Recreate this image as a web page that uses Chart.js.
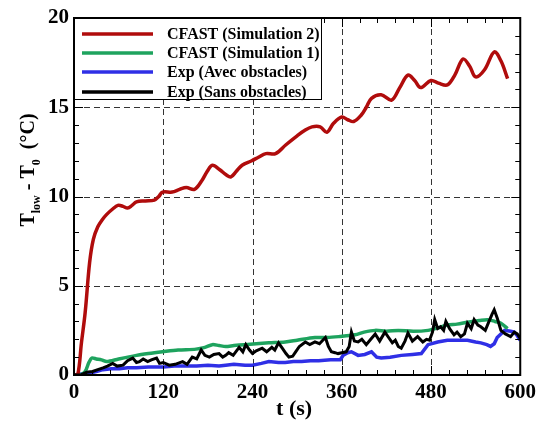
<!DOCTYPE html>
<html>
<head>
<meta charset="utf-8">
<script src="https://cdn.jsdelivr.net/npm/chart.js@4.4.1/dist/chart.umd.min.js"></script>
<style>
html,body{margin:0;padding:0;background:#fff;}
#c{display:block;}
</style>
</head>
<body>
<canvas id="c" width="541" height="421"></canvas>
<script>
// ---- data ----
const seriesLabels = ["CFAST (Simulation 2)", "CFAST (Simulation 1)", "Exp (Avec obstacles)", "Exp (Sans obstacles)"];
const xTickValues = [0, 120, 240, 360, 480, 600];
const yTickValues = [0, 5, 10, 15, 20];

const sim2Time = [0,5,10,15,21,26,32,38,44,52,59,66,72,78,84,96,108,114,119,132,142,151,162,172,179,186,196,205,211,218,226,239,248,258,271,285,300,310,320,331,340,349,360,368,376,386,393,400,413,427,438,449,458,466,480,490,502,512,523,532,540,552,565,574,583];
const sim2Vals = [0,0,1.8,3.5,6.3,7.6,8.3,8.7,9.0,9.3,9.5,9.45,9.35,9.5,9.7,9.75,9.8,10.0,10.25,10.25,10.4,10.5,10.4,10.9,11.4,11.75,11.5,11.2,11.1,11.4,11.75,12.0,12.2,12.4,12.4,12.9,13.4,13.7,13.9,13.9,13.6,14.1,14.45,14.3,14.2,14.55,15.0,15.5,15.7,15.4,16.1,16.8,16.5,16.1,16.5,16.35,16.25,16.8,17.7,17.3,16.7,17.1,18.1,17.6,16.6];

const sim1Time = [0,8,15,20,24,30,37,44,60,84,100,119,140,164,176,186,195,204,215,229,245,262,284,300,324,340,356,378,390,405,420,436,456,476,490,502,515,529,545,556,566,574,583];
const sim1Vals = [0,0,0.2,0.7,0.95,0.9,0.85,0.75,0.9,1.1,1.2,1.3,1.4,1.45,1.55,1.7,1.65,1.6,1.65,1.7,1.75,1.8,1.85,1.95,2.1,2.1,2.15,2.25,2.4,2.5,2.45,2.5,2.45,2.5,2.65,2.8,2.85,2.95,3.05,3.1,3.0,2.9,2.6];

const avecTime = [0,10,20,30,39,50,61,72,84,100,111,120,135,151,165,180,195,204,215,230,240,252,262,275,284,295,306,318,329,345,358,362,368,373,382,391,400,407,413,425,440,455,467,476,489,502,515,529,540,547,555,560,565,569,574,579,587,592,596,600];
const avecVals = [0,0.05,0.1,0.2,0.3,0.35,0.35,0.4,0.4,0.45,0.45,0.45,0.5,0.5,0.5,0.55,0.5,0.55,0.6,0.55,0.55,0.65,0.75,0.7,0.7,0.75,0.75,0.8,0.8,0.85,0.85,1.1,1.25,1.3,1.1,1.15,1.3,1.0,0.95,1.0,1.1,1.15,1.2,1.7,1.85,1.95,1.95,1.95,1.85,1.8,1.7,1.6,1.75,2.1,2.3,2.5,2.45,2.4,2.2,1.95];

const sansTime = [0,10,17,25,32,39,45,52,58,66,
  72,79,84,88,93,99,104,111,115,120,
  128,136,146,152,159,165,171,176,182,188,
  195,200,204,208,214,222,227,231,236,240,
  245,253,259,266,270,275,280,285,289,294,
  298,303,311,317,324,330,338,342,346,351,
  355,360,366,370,373,377,382,387,393,399,
  405,411,418,423,428,432,436,440,445,449,
  455,462,469,474,478,482,485,489,493,497,
  500,505,511,515,520,525,529,534,538,543,
  547,553,558,562,565,569,574,580,587,592,
  596,600];
const sansVals = [0,0.02,0.15,0.2,0.3,0.4,0.5,0.65,0.5,0.55,
  0.8,0.95,0.7,0.75,0.9,0.75,0.85,0.95,0.65,0.7,
  0.55,0.6,0.75,0.6,1.0,0.9,1.4,1.1,1.0,1.15,
  1.2,1.0,1.1,1.25,1.1,1.55,1.3,1.7,1.4,1.2,
  1.35,1.5,1.3,1.55,1.4,1.8,1.5,1.2,1.0,1.05,
  1.3,1.6,1.85,1.7,1.85,1.75,2.1,1.6,1.3,1.25,
  1.2,1.25,1.3,1.6,2.4,1.9,1.85,2.0,1.7,2.0,
  2.3,1.9,2.4,2.1,1.8,1.95,1.6,1.5,1.9,2.35,
  1.9,2.15,1.85,2.0,1.95,2.4,3.1,2.6,2.7,2.5,
  3.0,2.6,2.25,2.4,2.15,2.3,2.9,2.6,3.1,2.8,
  2.7,2.5,3.0,3.4,3.65,3.2,2.5,2.3,2.15,2.4,
  2.3,2.05];

const seriesColors = ["#b00c0c", "#1ea35e", "#2f2fe6", "#000000"];

function pts(t, v){ return t.map((x,i)=>({x:x, y:v[i]})); }

const SERIF = '"Liberation Serif","Times New Roman",serif';

const framePlugin = {
  id: 'frame',
  beforeDatasetsDraw(chart){
    const ctx = chart.ctx, a = chart.chartArea;
    const xs = chart.scales.x, ys = chart.scales.y;
    ctx.save();
    ctx.strokeStyle = '#333';
    ctx.lineWidth = 1;
    ctx.setLineDash([6, 4]);
    ctx.beginPath();
    xTickValues.forEach(v => {
      if (v === 0 || v === 600) return;
      const px = Math.round(xs.getPixelForValue(v)) + 0.5;
      ctx.moveTo(px, a.bottom); ctx.lineTo(px, a.top);
    });
    yTickValues.forEach(v => {
      if (v === 0 || v === 20) return;
      const py = Math.round(ys.getPixelForValue(v)) + 0.5;
      ctx.moveTo(a.left, py); ctx.lineTo(a.right, py);
    });
    ctx.stroke();
    ctx.restore();
  },
  afterDraw(chart){
    const ctx = chart.ctx, a = chart.chartArea;
    const xs = chart.scales.x, ys = chart.scales.y;
    ctx.save();
    ctx.strokeStyle = '#000';
    ctx.lineWidth = 1;
    // minor / major ticks
    ctx.beginPath();
    for(let v=0; v<=600; v+=24){
      const px = Math.round(xs.getPixelForValue(v))+0.5;
      const len = (v%120===0)?9:5;
      ctx.moveTo(px, a.bottom); ctx.lineTo(px, a.bottom-len);
      ctx.moveTo(px, a.top); ctx.lineTo(px, a.top+len);
    }
    for(let v=0; v<=20; v+=1){
      const py = Math.round(ys.getPixelForValue(v))+0.5;
      const len = (v%5===0)?9:5;
      ctx.moveTo(a.left, py); ctx.lineTo(a.left+len, py);
      ctx.moveTo(a.right, py); ctx.lineTo(a.right-len, py);
    }
    ctx.stroke();
    ctx.lineWidth = 2;
    ctx.strokeRect(a.left, a.top, a.right-a.left, a.bottom-a.top);

    // legend
    const lx = a.left, ly = a.top, lw = 247, lh = 81;
    ctx.fillStyle = '#fff';
    ctx.fillRect(lx, ly, lw, lh);
    ctx.lineWidth = 1;
    ctx.strokeStyle = '#000';
    ctx.strokeRect(lx+0.5, ly+0.5, lw, lh);
    const rows = [16, 35, 54, 74];
    ctx.font = 'bold 16px ' + SERIF;
    ctx.textBaseline = 'middle';
    ctx.textAlign = 'left';
    chart.data.datasets.forEach((ds, i) => {
      const y = ly + rows[i];
      ctx.strokeStyle = ds.borderColor;
      ctx.lineWidth = 3.5;
      ctx.beginPath();
      ctx.moveTo(lx+8, y); ctx.lineTo(lx+79, y);
      ctx.stroke();
      ctx.fillStyle = '#000';
      ctx.fillText(ds.label, lx+93, y+1);
    });

    // y-axis title with subscripts
    const pieces = [
      {t:'T', s:20, d:0},
      {t:'low', s:12, d:6},
      {t:' - T', s:20, d:0},
      {t:'0', s:12, d:6},
      {t:'  (°C)', s:20, d:0}
    ];
    let total = 0;
    pieces.forEach(p => { ctx.font = 'bold '+p.s+'px '+SERIF; p.w = ctx.measureText(p.t).width; total += p.w; });
    ctx.translate(34, 170);
    ctx.rotate(-Math.PI/2);
    ctx.fillStyle = '#000';
    ctx.textBaseline = 'alphabetic';
    let cx = -total/2;
    pieces.forEach(p => {
      ctx.font = 'bold '+p.s+'px '+SERIF;
      ctx.fillText(p.t, cx, p.d);
      cx += p.w;
    });
    ctx.restore();

    // x-axis title
    ctx.save();
    ctx.font = 'bold 22px ' + SERIF;
    ctx.fillStyle = '#000';
    ctx.textAlign = 'center';
    ctx.textBaseline = 'middle';
    ctx.fillText('t (s)', (a.left+a.right)/2 - 3, 409);
    ctx.restore();
  }
};

new Chart(document.getElementById('c'), {
  type: 'line',
  data: {
    datasets: [
      {label: seriesLabels[0], data: pts(sim2Time, sim2Vals), borderColor: seriesColors[0], borderWidth: 3.5, tension: 0.35, pointRadius: 0, order: 1},
      {label: seriesLabels[1], data: pts(sim1Time, sim1Vals), borderColor: seriesColors[1], borderWidth: 3.5, tension: 0.3, pointRadius: 0, order: 2},
      {label: seriesLabels[2], data: pts(avecTime, avecVals), borderColor: seriesColors[2], borderWidth: 3.5, tension: 0, pointRadius: 0, order: 3},
      {label: seriesLabels[3], data: pts(sansTime, sansVals), borderColor: seriesColors[3], borderWidth: 3, tension: 0, pointRadius: 0, order: 0}
    ]
  },
  options: {
    responsive: false,
    animation: false,
    layout: {padding: {top: 18, right: 18, left: 0, bottom: 0}},
    plugins: {legend: {display: false}, tooltip: {enabled: false}},
    scales: {
      x: {
        type: 'linear', min: 0, max: 600,
        afterBuildTicks: s => { s.ticks = xTickValues.map(v => ({value: v})); },
        afterFit: s => { s.height = 46; },
        grid: {display: false, drawTicks: false},
        border: {display: false},
        ticks: {padding: 5, color: '#000', font: {family: SERIF, size: 21, weight: 'bold'}, maxRotation: 0}
      },
      y: {
        min: 0, max: 20,
        afterBuildTicks: s => { s.ticks = yTickValues.map(v => ({value: v})); },
        afterFit: s => { s.width = 74; },
        grid: {display: false, drawTicks: false},
        border: {display: false},
        ticks: {padding: 5, color: '#000', font: {family: SERIF, size: 21, weight: 'bold'}}
      }
    }
  },
  plugins: [framePlugin]
});
</script>
</body>
</html>
